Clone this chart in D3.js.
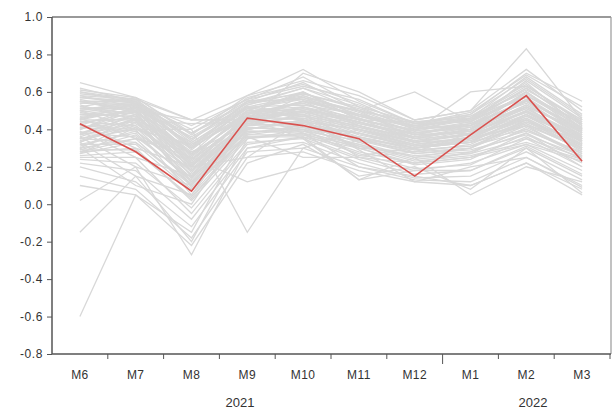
<!DOCTYPE html>
<html><head><meta charset="utf-8">
<script src="https://cdn.jsdelivr.net/npm/d3@7"></script>
<style>body{margin:0;background:#fff}svg{display:block}text{font-family:Arial,"Liberation Sans",sans-serif;fill:#333}</style>
</head><body><svg id="c" width="613" height="412"></svg>
<script>
const categories = ["M6","M7","M8","M9","M10","M11","M12","M1","M2","M3"];
const years = [{label:"2021", from:"M6", to:"M12"},{label:"2022", from:"M1", to:"M3"}];
const yTicks = [-0.8,-0.6,-0.4,-0.2,0.0,0.2,0.4,0.6,0.8,1.0];
const highlight = [0.43,0.28,0.07,0.46,0.42,0.35,0.15,0.37,0.58,0.23];
const others = [
[0.62,0.55,0.30,0.55,0.65,0.50,0.40,0.45,0.65,0.40],
[0.58,0.52,0.25,0.50,0.60,0.45,0.38,0.42,0.60,0.38],
[0.55,0.50,0.20,0.48,0.55,0.42,0.35,0.40,0.55,0.35],
[0.52,0.48,0.15,0.45,0.50,0.40,0.33,0.38,0.50,0.32],
[0.50,0.55,0.35,0.52,0.58,0.48,0.42,0.45,0.62,0.42],
[0.48,0.50,0.28,0.42,0.48,0.38,0.30,0.35,0.48,0.30],
[0.45,0.45,0.10,0.40,0.45,0.35,0.28,0.32,0.45,0.28],
[0.42,0.40,0.05,0.38,0.42,0.33,0.25,0.30,0.42,0.25],
[0.40,0.52,0.32,0.50,0.52,0.44,0.36,0.40,0.55,0.36],
[0.38,0.47,0.22,0.46,0.50,0.41,0.33,0.37,0.52,0.33],
[0.35,0.42,0.18,0.43,0.47,0.37,0.31,0.34,0.46,0.31],
[0.32,0.38,0.12,0.40,0.44,0.34,0.29,0.31,0.43,0.29],
[0.30,0.35,0.08,0.37,0.41,0.31,0.26,0.28,0.40,0.26],
[0.28,0.30,0.02,0.35,0.38,0.28,0.22,0.25,0.36,0.22],
[0.25,0.25,-0.05,0.32,0.36,0.25,0.18,0.22,0.32,0.18],
[0.65,0.57,0.45,0.45,0.70,0.60,0.45,0.50,0.83,0.45],
[0.60,0.56,0.45,0.58,0.72,0.55,0.43,0.48,0.70,0.55],
[0.57,0.54,0.40,0.56,0.68,0.52,0.40,0.46,0.68,0.48],
[0.54,0.53,0.38,0.54,0.62,0.50,0.60,0.44,0.66,0.46],
[0.51,0.51,0.36,0.53,0.60,0.47,0.39,0.60,0.63,0.44],
[0.47,0.49,0.33,0.51,0.57,0.46,0.37,0.43,0.58,0.41],
[0.44,0.46,0.30,0.49,0.54,0.43,0.36,0.41,0.56,0.39],
[0.41,0.44,0.27,0.47,0.52,0.42,0.34,0.39,0.53,0.37],
[0.37,0.43,0.24,0.45,0.49,0.39,0.32,0.36,0.50,0.34],
[0.34,0.41,0.20,0.44,0.46,0.36,0.30,0.33,0.47,0.32],
[0.31,0.39,0.16,0.42,0.43,0.35,0.27,0.30,0.44,0.30],
[0.29,0.37,0.13,0.41,0.40,0.32,0.24,0.27,0.41,0.27],
[0.27,0.33,0.10,0.39,0.39,0.30,0.21,0.24,0.38,0.24],
[0.26,0.28,0.04,0.36,0.37,0.27,0.19,0.21,0.35,0.20],
[0.24,0.22,-0.02,0.33,0.35,0.24,0.16,0.18,0.31,0.16],
[0.22,0.18,-0.08,0.30,0.33,0.22,0.14,0.15,0.28,0.13],
[0.20,0.12,-0.12,0.28,0.30,0.20,0.13,0.12,0.25,0.10],
[0.15,0.08,-0.18,0.25,0.28,0.18,0.12,0.10,0.22,0.08],
[0.10,0.05,-0.22,0.22,0.32,0.15,0.20,0.08,0.30,0.06],
[0.02,0.20,-0.27,0.30,0.36,0.13,0.25,0.05,0.20,0.12],
[-0.15,0.15,-0.20,0.35,0.40,0.26,0.30,0.35,0.42,0.35],
[-0.60,0.05,-0.15,0.40,0.45,0.30,0.28,0.38,0.45,0.30],
[0.56,0.50,0.45,0.45,0.55,0.50,0.35,0.40,0.60,0.40],
[0.53,0.45,0.43,0.44,0.50,0.46,0.33,0.38,0.56,0.38],
[0.50,0.40,0.40,-0.15,0.30,0.40,0.32,0.35,0.50,0.35],
[0.46,0.35,0.25,0.12,0.20,0.35,0.30,0.33,0.48,0.34],
[0.43,0.30,0.20,0.25,0.45,0.25,0.28,0.30,0.45,0.32],
[0.39,0.25,0.15,0.50,0.48,0.33,0.40,0.42,0.52,0.40],
[0.36,0.20,0.10,0.48,0.60,0.45,0.44,0.44,0.62,0.42],
[0.33,0.15,0.05,0.46,0.55,0.47,0.42,0.46,0.58,0.44],
[0.30,0.10,0.00,0.44,0.58,0.49,0.38,0.43,0.55,0.40],
[0.59,0.56,0.34,0.57,0.64,0.54,0.41,0.47,0.64,0.43],
[0.49,0.53,0.31,0.55,0.56,0.50,0.44,0.47,0.60,0.41],
[0.45,0.54,0.29,0.52,0.53,0.48,0.42,0.45,0.57,0.39],
[0.42,0.52,0.26,0.49,0.51,0.45,0.40,0.43,0.54,0.37],
[0.40,0.50,0.23,0.47,0.48,0.43,0.38,0.41,0.51,0.35],
[0.37,0.48,0.21,0.46,0.46,0.41,0.36,0.39,0.49,0.33],
[0.33,0.46,0.19,0.44,0.44,0.40,0.34,0.37,0.46,0.31],
[0.30,0.44,0.17,0.43,0.42,0.38,0.32,0.35,0.43,0.29],
[0.27,0.41,0.14,0.41,0.40,0.36,0.30,0.33,0.40,0.27],
[0.52,0.57,0.37,0.58,0.66,0.58,0.45,0.50,0.72,0.50],
[0.55,0.49,0.27,0.53,0.62,0.53,0.42,0.48,0.67,0.47],
[0.48,0.47,0.24,0.50,0.59,0.51,0.41,0.46,0.63,0.45],
[0.44,0.42,0.21,0.47,0.55,0.48,0.39,0.44,0.59,0.43],
[0.41,0.39,0.18,0.45,0.52,0.46,0.37,0.42,0.55,0.41],
[0.38,0.36,0.14,0.43,0.50,0.44,0.35,0.40,0.52,0.39],
[0.35,0.33,0.11,0.42,0.47,0.42,0.33,0.38,0.49,0.37],
[0.32,0.32,0.07,0.40,0.44,0.40,0.31,0.36,0.47,0.35],
[0.29,0.29,0.03,0.38,0.41,0.38,0.30,0.34,0.44,0.34],
[0.60,0.54,0.42,0.56,0.63,0.56,0.43,0.49,0.69,0.52],
[0.46,0.50,0.38,0.52,0.45,0.29,0.12,0.20,0.25,0.09],
[0.38,0.45,0.30,0.48,0.38,0.20,0.15,0.10,0.22,0.05],
[0.35,0.40,0.32,0.46,0.35,0.13,0.18,0.18,0.30,0.15],
[0.28,0.35,0.28,0.36,0.25,0.25,0.22,0.28,0.38,0.20],
[0.57,0.55,0.33,0.52,0.49,0.44,0.37,0.39,0.51,0.36],
[0.54,0.54,0.30,0.49,0.47,0.42,0.35,0.37,0.48,0.34],
[0.51,0.53,0.27,0.47,0.45,0.40,0.33,0.35,0.45,0.32],
[0.48,0.52,0.24,0.45,0.43,0.38,0.31,0.33,0.42,0.30],
[0.45,0.51,0.21,0.43,0.41,0.36,0.29,0.31,0.39,0.28],
[0.43,0.49,0.18,0.41,0.39,0.34,0.27,0.29,0.37,0.26],
[0.40,0.48,0.15,0.39,0.38,0.32,0.25,0.27,0.35,0.25],
[0.36,0.46,0.12,0.37,0.37,0.31,0.23,0.26,0.33,0.24],
[0.33,0.45,0.09,0.36,0.36,0.30,0.22,0.25,0.32,0.23],
[0.61,0.57,0.38,0.55,0.59,0.52,0.44,0.46,0.61,0.45],
[0.58,0.56,0.35,0.54,0.57,0.50,0.43,0.44,0.58,0.43],
[0.55,0.55,0.31,0.51,0.56,0.47,0.41,0.42,0.56,0.40],
[0.50,0.54,0.26,0.48,0.54,0.45,0.39,0.40,0.53,0.38],
[0.46,0.53,0.22,0.46,0.51,0.44,0.37,0.38,0.50,0.36]
];

const svg = d3.select("#c");
const L = 52, R = 610, T = 17, B = 354;
const x = d3.scaleBand().domain(categories).range([L, R]).padding(0);
const y = d3.scaleLinear().domain([-0.8, 1.0]).range([B, T]);
const cx = d => x(d) + x.bandwidth() / 2;
const line = d3.line().x((d, i) => cx(categories[i])).y(d => y(d));

const g = svg.append("g");
g.selectAll("path.o").data(others).join("path").attr("class","o")
  .attr("d", line).attr("fill","none").attr("stroke","#d8d8d8").attr("stroke-width",1.3);
g.append("path").datum(highlight).attr("d", line).attr("fill","none")
  .attr("stroke","#d9524f").attr("stroke-width",1.6).attr("stroke-linejoin","miter");

// frame
svg.append("line").attr("x1",L).attr("x2",R+1).attr("y1",T).attr("y2",T).attr("stroke","#777").attr("stroke-width",1.5);
svg.append("line").attr("x1",R+1).attr("x2",R+1).attr("y1",T).attr("y2",B).attr("stroke","#999").attr("stroke-width",1.2);

// y axis
const fmt = d3.format(".1f");
const ya = d3.axisLeft(y).tickValues(yTicks).tickFormat(d => fmt(d).replace("\u2212","-")).tickSize(5).tickPadding(4);
const yg = svg.append("g").attr("transform",`translate(${L},0)`).call(ya);
yg.select(".domain").attr("stroke","#555").attr("stroke-width",1.5).attr("d",`M0,${T}V${B}`);
yg.selectAll(".tick line").attr("stroke","#555");
yg.selectAll(".tick text").attr("font-size",12).attr("fill","#333").style("letter-spacing","0.6px");

// x axis
const boundaries = categories.map(c => x(c)).concat([R]);
const xg = svg.append("g");
xg.append("line").attr("x1",L).attr("x2",R+1).attr("y1",B).attr("y2",B).attr("stroke","#555").attr("stroke-width",1.5);
const yearStart = categories.indexOf("M1");
xg.selectAll("line.t").data(boundaries.slice(1)).join("line").attr("class","t")
  .attr("x1",d=>d).attr("x2",d=>d).attr("y1",B)
  .attr("y2",(d,i)=> i+1 === yearStart ? B+10 : B+5).attr("stroke","#555");
xg.selectAll("text.c").data(categories).join("text").attr("class","c")
  .attr("x",d=>cx(d)).attr("y",B+25).attr("text-anchor","middle")
  .attr("font-size",12).style("letter-spacing","0.4px").text(d=>d);
const yearPos = [3.37, 8.62];
xg.selectAll("text.yr").data(years).join("text").attr("class","yr")
  .attr("x",(d,i)=> L + x.bandwidth()*yearPos[i]).attr("y",B+53).attr("text-anchor","middle")
  .attr("font-size",13).text(d=>d.label);
</script></body></html>
